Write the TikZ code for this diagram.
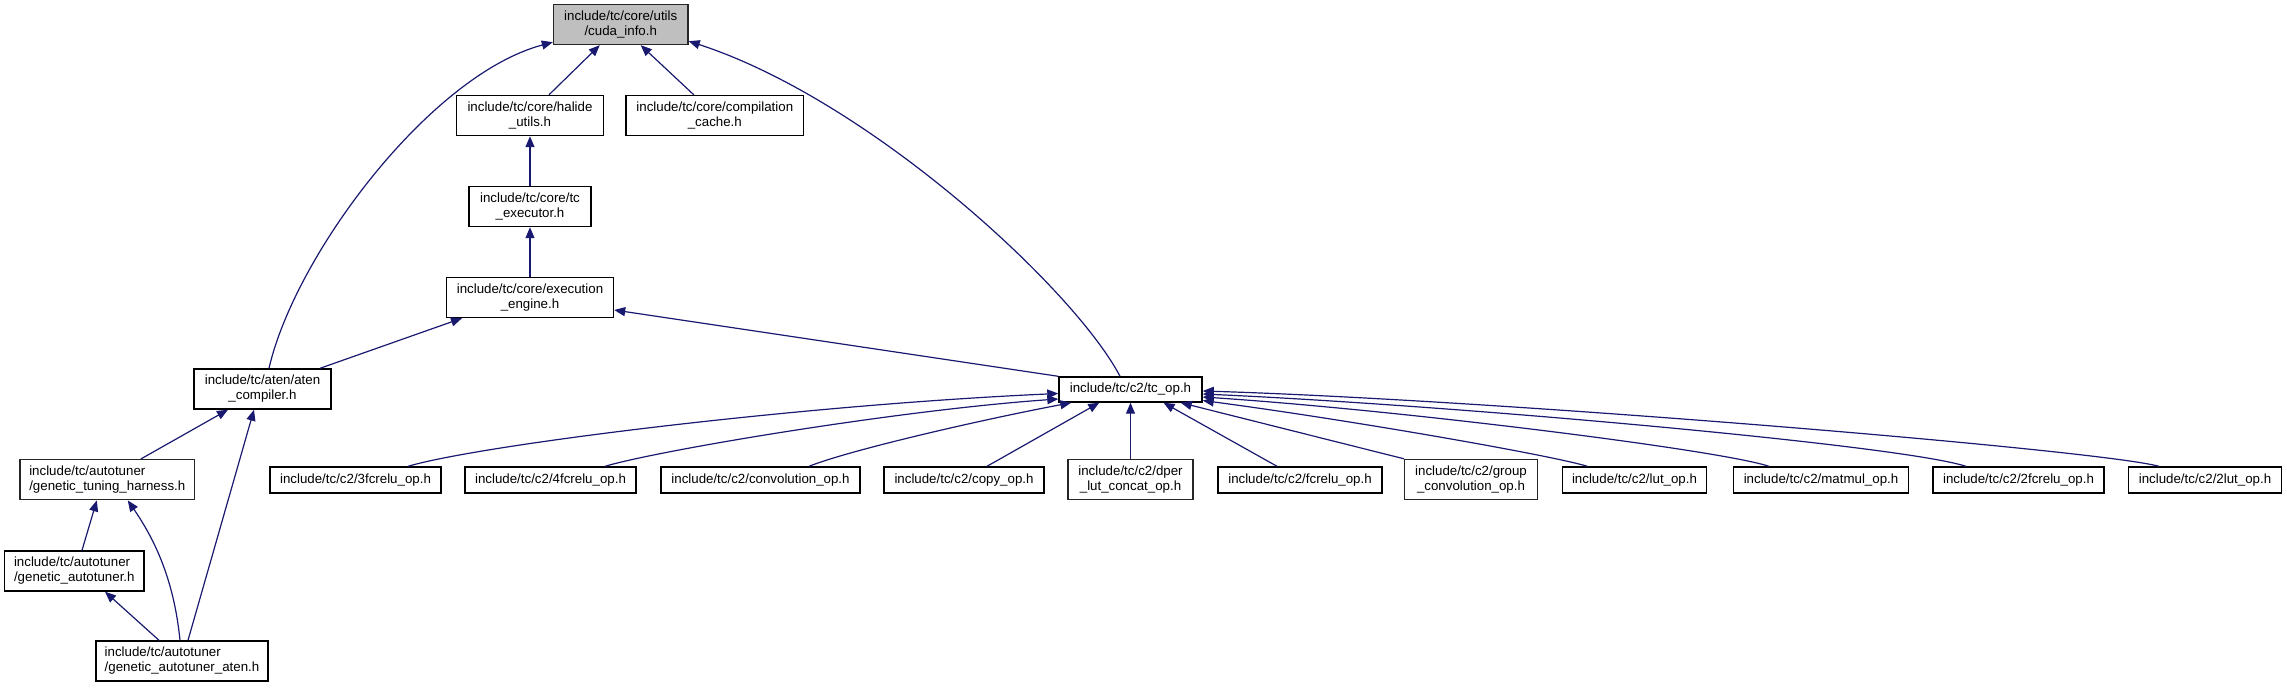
\documentclass[tikz,border=0pt]{standalone}
\usepackage{fontspec}
\setmainfont{Liberation Sans}
\usetikzlibrary{arrows.meta}
\definecolor{edgeblue}{HTML}{191970}
\definecolor{rootgray}{HTML}{BFBFBF}
\definecolor{boxgray}{HTML}{262626}
\begin{document}
\begin{tikzpicture}[x=1pt,y=-1pt,
  box/.style={draw=black, line width=1.4pt, fill=white, inner sep=0pt,
    minimum height=40pt, align=center, font=\fontsize{13.3}{15}\selectfont},
  onebox/.style={box, minimum height=26pt},
  greybox/.style={draw=boxgray},
  rootbox/.style={fill=rootgray, draw=boxgray},
  edge/.style={draw=edgeblue, line width=1.2pt, -{Triangle[length=11pt,width=9pt]}}
]
\useasboundingbox (0,0) rectangle (2287,688);

% nodes
\node[box, rootbox, minimum width=134.5pt] (cuda) at (620.75,24.5) {include/tc/core/utils\\/cuda\_info.h};
\node[box, minimum width=147pt] (halide) at (530,115.5) {include/tc/core/halide\\\_utils.h};
\node[box, minimum width=177.6pt] (comp) at (714.8,115.5) {include/tc/core/compilation\\\_cache.h};
\node[box, minimum width=122pt] (tcexec) at (530,206.5) {include/tc/core/tc\\\_executor.h};
\node[box, minimum width=167pt] (exec) at (530,297.5) {include/tc/core/execution\\\_engine.h};
\node[box, minimum width=137pt] (aten) at (262.5,389) {include/tc/aten/aten\\\_compiler.h};
\node[box, greybox, align=left, minimum width=174.5pt] (harness) at (107.3,479.7) {include/tc/autotuner\\/genetic\_tuning\_harness.h};
\node[box, align=left, minimum width=139.4pt] (autotuner) at (74.3,571) {include/tc/autotuner\\/genetic\_autotuner.h};
\node[box, align=left, minimum width=172pt] (autaten) at (182,661) {include/tc/autotuner\\/genetic\_autotuner\_aten.h};
\node[onebox, minimum width=143pt, minimum height=25pt] (tcop) at (1130.5,389.5) {include/tc/c2/tc\_op.h};

\node[onebox, minimum width=171pt] (n3f) at (355.5,480) {include/tc/c2/3fcrelu\_op.h};
\node[onebox, minimum width=171pt] (n4f) at (550.5,480) {include/tc/c2/4fcrelu\_op.h};
\node[onebox, minimum width=199pt] (conv) at (760.5,480) {include/tc/c2/convolution\_op.h};
\node[onebox, minimum width=160pt] (copy) at (964,480) {include/tc/c2/copy\_op.h};
\node[box, greybox, minimum width=125pt] (dper) at (1130.5,479.5) {include/tc/c2/dper\\\_lut\_concat\_op.h};
\node[onebox, minimum width=164pt] (fcrelu) at (1300,480) {include/tc/c2/fcrelu\_op.h};
\node[box, greybox, minimum width=132.5pt] (group) at (1471,479.5) {include/tc/c2/group\\\_convolution\_op.h};
\node[onebox, minimum width=144pt] (lut) at (1634.5,480) {include/tc/c2/lut\_op.h};
\node[onebox, minimum width=175pt] (matmul) at (1821,480) {include/tc/c2/matmul\_op.h};
\node[onebox, minimum width=171pt] (f2) at (2018.5,480) {include/tc/c2/2fcrelu\_op.h};
\node[onebox, minimum width=153.5pt] (l2) at (2205,480) {include/tc/c2/2lut\_op.h};

% edges to cuda_info
\draw[edge] ([xshift=6.5pt]aten.north) .. controls (295,255) and (430,75) .. ([yshift=3pt]cuda.south west);
\draw[edge] ([xshift=19pt]halide.north) -- ([xshift=-21pt]cuda.south);
\draw[edge] ([xshift=-21pt]comp.north) -- ([xshift=20pt]cuda.south);
\draw[edge] ([xshift=-10.5pt]tcop.north) .. controls (1075,290) and (870,100) .. ([yshift=4pt]cuda.south east);

% core chain
\draw[edge] (tcexec.north) -- (halide.south);
\draw[edge] (exec.north) -- (tcexec.south);
\draw[edge] ([xshift=57.5pt]aten.north) -- ([xshift=-68pt]exec.south);
\draw[edge] (tcop.north west) -- ([yshift=-12.5pt]exec.east);

% autotuner
\draw[edge] ([xshift=33.5pt]harness.north) -- ([xshift=-34.5pt]aten.south);
\draw[edge] ([xshift=6pt]autaten.north) -- ([xshift=-8.5pt]aten.south);
\draw[edge] ([xshift=7.7pt]autotuner.north) -- ([xshift=-10.5pt]harness.south);
\draw[edge] ([xshift=-2pt]autaten.north) .. controls (174,580) and (155,540) .. ([xshift=20.5pt]harness.south);
\draw[edge] ([xshift=-23pt]autaten.north) -- ([xshift=30.7pt]autotuner.south);

% c2 ops to tc_op
\draw[edge] ([xshift=52.5pt]n3f.north) .. controls (480,445) and (800,405) .. ([yshift=-4pt]tcop.west);
\draw[edge] ([xshift=54.5pt]n4f.north) .. controls (660,450) and (900,410) .. ([yshift=-9.5pt]tcop.west);
\draw[edge] ([xshift=48.5pt]conv.north) .. controls (850,450) and (980,420) .. ([xshift=13pt]tcop.south west);
\draw[edge] ([xshift=23pt]copy.north) -- ([xshift=41pt]tcop.south west);
\draw[edge] (dper.north) -- (tcop.south);
\draw[edge] ([xshift=-23pt]fcrelu.north) -- ([xshift=33pt]tcop.south);
\draw[edge] ([xshift=-67pt]group.north) -- ([xshift=-22pt]tcop.south east);
\draw[edge] ([xshift=-47pt]lut.north) .. controls (1550,455) and (1350,420) .. ([yshift=-11pt]tcop.east);
\draw[edge] ([xshift=-52pt]matmul.north) .. controls (1720,450) and (1400,410) .. ([yshift=-7.5pt]tcop.east);
\draw[edge] ([xshift=-52.5pt]f2.north) .. controls (1900,445) and (1450,405) .. ([yshift=-4.5pt]tcop.east);
\draw[edge] ([xshift=-46pt]l2.north) .. controls (2100,450) and (1500,400) .. ([yshift=-1.5pt]tcop.east);
\end{tikzpicture}
\end{document}
